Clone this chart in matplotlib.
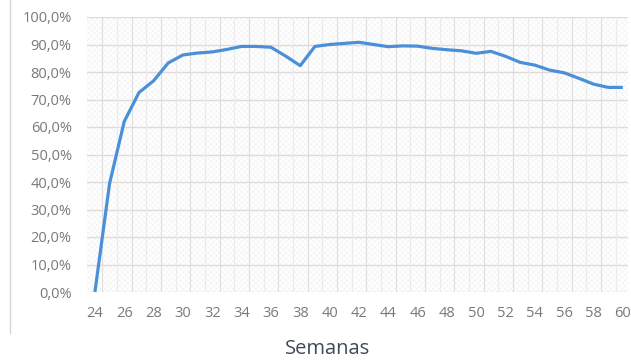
import numpy as np
import matplotlib.pyplot as plt
from matplotlib.patches import Rectangle
from matplotlib.lines import Line2D

plt.rcParams['font.family'] = ['Open Sans', 'DejaVu Sans']
plt.rcParams['hatch.linewidth'] = 0.4

# semana de vida e percentagem
semanas = list(range(24, 61))
percentagem = [0.0, 39.5, 62.0, 72.5, 76.8, 83.3, 86.2, 86.9, 87.3, 88.2,
               89.3, 89.3, 89.0, 85.8, 82.3, 89.3, 90.0, 90.4, 90.8, 90.0,
               89.2, 89.5, 89.4, 88.6, 88.1, 87.7, 86.8, 87.5, 85.7, 83.5,
               82.5, 80.7, 79.7, 77.7, 75.6, 74.4, 74.4]
yticks = list(range(0, 101, 10))
xticks = list(range(24, 61, 2))

fig = plt.figure(figsize=(6.31, 3.61), dpi=100)
ax = fig.add_axes([87 / 631, 1 - 292 / 361, 541 / 631, 275 / 361])

# fundo texturado
ax.add_patch(Rectangle((0, 0), 1, 1, transform=ax.transAxes, facecolor='white',
                       edgecolor='#f1f1f1', hatch='xxxxxx', lw=0, zorder=0))

# grelha
for y in yticks:
    ax.axhline(y, color='#e2d9d9', lw=1.0, zorder=1)
for x in np.arange(24.5, 61, 1.0):
    c = '#dedede' if (x - 24.5) % 2 == 0 else '#ebebeb'
    ax.axvline(x, color=c, lw=0.8, zorder=1)

ax.plot(semanas, percentagem, color='#4a90d9', lw=2.3, zorder=3,
        solid_joinstyle='round', solid_capstyle='butt')

ax.set_xlim(23.46, 60.35)
ax.set_ylim(0, 100)
ax.set_xticks(xticks)
ax.set_xticklabels([str(x) for x in xticks])
ax.set_yticks(yticks)
ax.set_yticklabels([f"{y:.1f}%".replace('.', ',') for y in yticks])
ax.tick_params(length=0, colors='#7d7878', labelsize=10.5)
ax.tick_params(axis='y', pad=11)
ax.tick_params(axis='x', pad=10)
for s in ax.spines.values():
    s.set_visible(False)

# contorno da área do gráfico
fig.add_artist(Line2D([10 / 631, 10 / 631], [1, 1 - 333 / 361],
                      transform=fig.transFigure, color='#d6d6d6', lw=1))

fig.text(328 / 631, 1 - 349 / 361, 'Semanas', ha='center', va='center',
         fontsize=14.5, color='#3e4a5c')

fig.savefig('out.png', dpi=100)
